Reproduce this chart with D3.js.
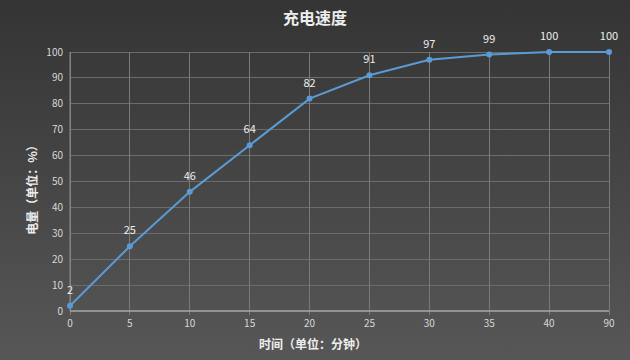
<!DOCTYPE html>
<html><head><meta charset="utf-8">
<script src="https://cdn.jsdelivr.net/npm/d3@7"></script>
<style>html,body{margin:0;padding:0;background:#444;}svg{display:block;}</style>
</head><body>
<script>
const categories = ["0","5","10","15","20","25","30","35","40","90"];
const values = [2,25,46,64,82,91,97,99,100,100];
const yTicks = [0,10,20,30,40,50,60,70,80,90,100];
const title = "充电速度";
const xTitle = "时间（单位：分钟）";
const yTitle = "电量（单位：%）";

const W=630,H=360;
const m={left:70,right:21,top:52,bottom:49};
const font = "'Noto Sans CJK SC','Noto Sans',sans-serif";
const svg=d3.select("body").append("svg").attr("width",W).attr("height",H);
const defs=svg.append("defs");
const g0=defs.append("linearGradient").attr("id","bg").attr("x1",0).attr("y1",0).attr("x2",0).attr("y2",1);
g0.append("stop").attr("offset","0%").attr("stop-color","#343434");
g0.append("stop").attr("offset","100%").attr("stop-color","#575757");
svg.append("rect").attr("width",W).attr("height",H).attr("fill","url(#bg)");

const x=d3.scalePoint().domain(categories).range([m.left,W-m.right]);
const y=d3.scaleLinear().domain([0,100]).range([H-m.bottom,m.top]);

svg.append("g").selectAll("line").data(yTicks.filter(d=>d>0)).join("line")
 .attr("x1",m.left).attr("x2",W-m.right).attr("y1",d=>y(d)).attr("y2",d=>y(d))
 .attr("stroke","#6c6c6c").attr("stroke-width",1).attr("shape-rendering","crispEdges");
svg.append("g").selectAll("line").data(categories).join("line")
 .attr("x1",d=>x(d)).attr("x2",d=>x(d)).attr("y1",m.top).attr("y2",y(0)+4)
 .attr("stroke","#7a7a7a").attr("stroke-width",1).attr("shape-rendering","crispEdges");
svg.append("line").attr("x1",m.left).attr("x2",W-m.right).attr("y1",y(0)).attr("y2",y(0))
 .attr("stroke","#a8a8a8").attr("stroke-width",1.3);
svg.append("line").attr("x1",m.left).attr("x2",m.left).attr("y1",m.top).attr("y2",y(0))
 .attr("stroke","#8a8a8a").attr("stroke-width",1);

svg.append("g").selectAll("text").data(yTicks).join("text")
 .attr("x",m.left-7).attr("y",d=>y(d)).attr("dy","0.35em").attr("text-anchor","end")
 .attr("fill","#d8d8d8").attr("font-size",10).attr("font-family",font).text(d=>d);
svg.append("g").selectAll("text").data(categories).join("text")
 .attr("x",d=>x(d)).attr("y",y(0)+16).attr("text-anchor","middle")
 .attr("fill","#d8d8d8").attr("font-size",10).attr("font-family",font).text(d=>d);

const line=d3.line().x((d,i)=>x(categories[i])).y(d=>y(d));
svg.append("path").datum(values).attr("d",line).attr("fill","none")
 .attr("stroke","#5b9bd5").attr("stroke-width",2);
svg.append("g").selectAll("circle").data(values).join("circle")
 .attr("cx",(d,i)=>x(categories[i])).attr("cy",d=>y(d)).attr("r",3)
 .attr("fill","#5b9bd5");
svg.append("g").selectAll("text").data(values).join("text")
 .attr("x",(d,i)=>x(categories[i])).attr("y",d=>y(d)-12).attr("text-anchor","middle")
 .attr("fill","#eeeeee").attr("font-size",11).attr("font-family",font).text(d=>d);

svg.append("text").attr("x",W/2).attr("y",24).attr("text-anchor","middle")
 .attr("fill","#eeeeee").attr("font-size",16).attr("font-weight","bold").attr("font-family",font).text(title);
svg.append("text").attr("x",313).attr("y",349).attr("text-anchor","middle")
 .attr("fill","#eeeeee").attr("font-size",12).attr("font-weight","bold").attr("font-family",font).text(xTitle);
svg.append("text").attr("transform","translate(37,187) rotate(-90)").attr("text-anchor","middle")
 .attr("fill","#eeeeee").attr("font-size",12).attr("font-weight","bold").attr("font-family",font).text(yTitle);
</script>
</body></html>
